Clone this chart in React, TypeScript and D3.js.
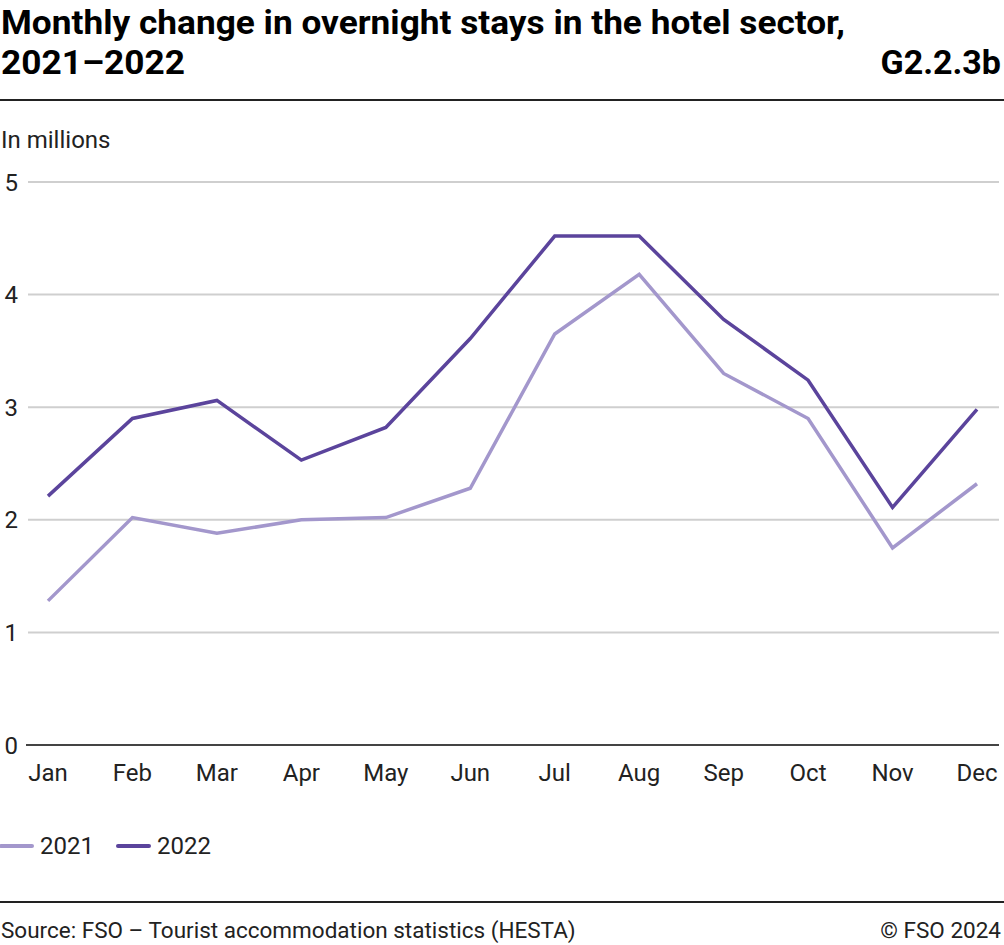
import React from "react";
import * as d3 from "d3";

const months = ["Jan", "Feb", "Mar", "Apr", "May", "Jun", "Jul", "Aug", "Sep", "Oct", "Nov", "Dec"];
const values2021 = [1.28, 2.02, 1.88, 2.0, 2.02, 2.28, 3.65, 4.18, 3.3, 2.9, 1.75, 2.32];
const values2022 = [2.21, 2.9, 3.06, 2.53, 2.82, 3.61, 4.52, 4.52, 3.78, 3.24, 2.11, 2.98];
const yTicks = [0, 1, 2, 3, 4, 5];
const seriesNames = ["2021", "2022"];
const colors = ["#a397cc", "#5b449c"];

const W = 1004;
const H = 945;
const font = "Roboto, 'Noto Sans', sans-serif";

const App = () => {
  const x = d3.scalePoint<string>().domain(months).range([48, 977]);
  const y = d3.scaleLinear().domain([0, 5]).range([745, 182]);

  const line = d3
    .line<number>()
    .x((_, i) => x(months[i]) as number)
    .y((d) => y(d));

  const series = [values2021, values2022];

  return (
    <svg width={W} height={H} style={{ position: "absolute", left: 0, top: 0 }} fontFamily={font}>
      <rect width={W} height={H} fill="#fff" />
      <text x={1} y={34} fontSize={34} fontWeight="bold" fill="#000" textLength={844} lengthAdjust="spacingAndGlyphs">
        Monthly change in overnight stays in the hotel sector,
      </text>
      <text x={1} y={74} fontSize={34} fontWeight="bold" fill="#000" textLength={184} lengthAdjust="spacingAndGlyphs">
        2021–2022
      </text>
      <text x={1001} y={74} fontSize={34} fontWeight="bold" fill="#000" textAnchor="end">
        G2.2.3b
      </text>
      <line x1={0} x2={W} y1={100} y2={100} stroke="#222" strokeWidth={2} />

      <text x={1} y={148} fontSize={24} fill="#222">
        In millions
      </text>

      {yTicks.map((t) => (
        <g key={t}>
          {t > 0 && (
            <line x1={28} x2={999} y1={y(t)} y2={y(t)} stroke="#cfcfcf" strokeWidth={2} />
          )}
          <text x={18} y={y(t) + 8.5} fontSize={24} fill="#222" textAnchor="end">
            {t}
          </text>
        </g>
      ))}
      <line x1={26} x2={999} y1={y(0)} y2={y(0)} stroke="#444" strokeWidth={2} />

      {months.map((m) => (
        <text key={m} x={x(m)} y={781} fontSize={24} fill="#222" textAnchor="middle">
          {m}
        </text>
      ))}

      {series.map((s, i) => (
        <path
          key={seriesNames[i]}
          d={line(s) || ""}
          fill="none"
          stroke={colors[i]}
          strokeWidth={3.5}
          strokeLinejoin="miter"
        />
      ))}

      {seriesNames.map((n, i) => (
        <g key={n} transform={`translate(${i * 117},0)`}>
          <line x1={1} x2={32} y1={846} y2={846} stroke={colors[i]} strokeWidth={4} strokeLinecap="round" />
          <text x={40} y={854} fontSize={24} fill="#222">
            {n}
          </text>
        </g>
      ))}

      <line x1={0} x2={W} y1={902} y2={902} stroke="#222" strokeWidth={2} />
      <text x={1} y={938} fontSize={22.5} fill="#222">
        Source: FSO – Tourist accommodation statistics (HESTA)
      </text>
      <text x={1001} y={938} fontSize={22.5} fill="#222" textAnchor="end">
        © FSO 2024
      </text>
    </svg>
  );
};

export default App;
